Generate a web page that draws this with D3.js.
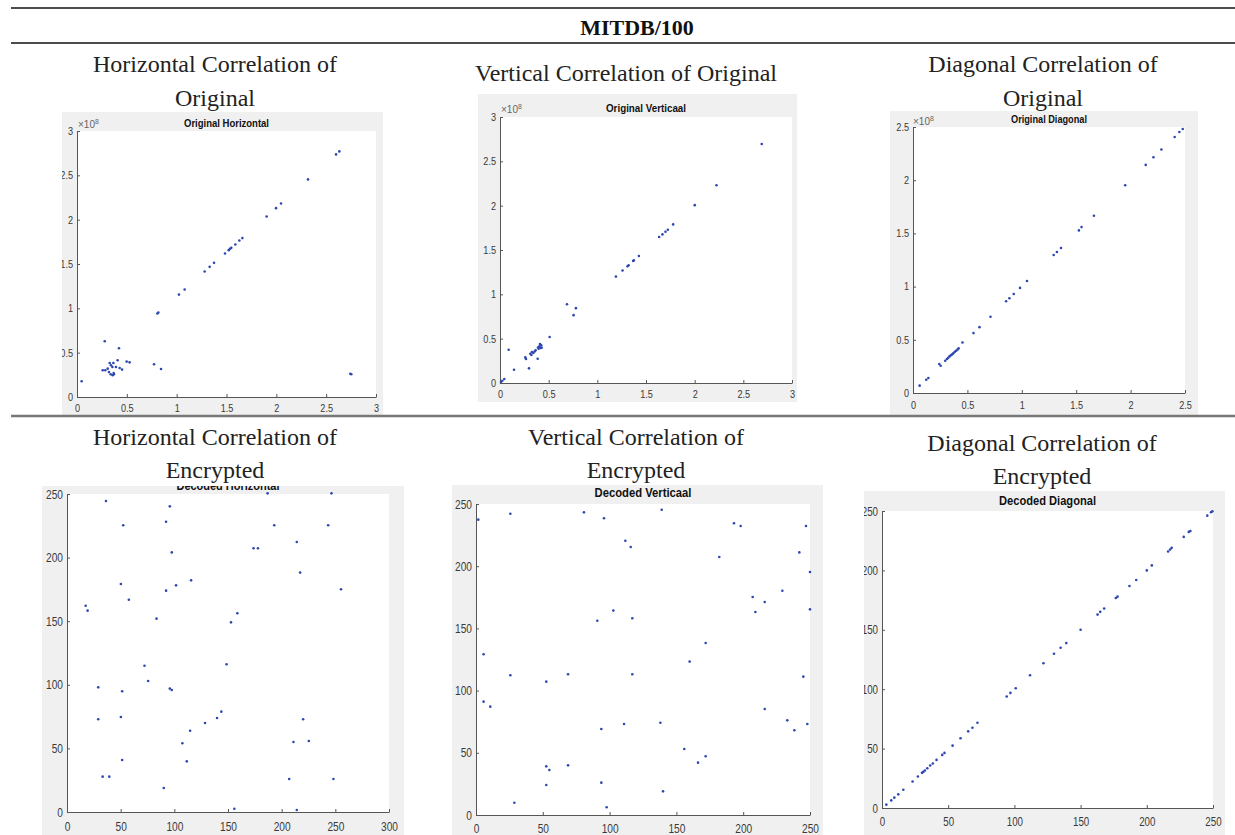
<!DOCTYPE html>
<html><head><meta charset="utf-8">
<script src="https://cdn.jsdelivr.net/npm/d3@7"></script>
<style>body{margin:0;background:#fff} svg{display:block}</style>
</head><body><svg id="c" width="1235" height="835"></svg>
<script>
// ---------------- DATA ----------------
const tableTitle = "MITDB/100";
const headerRow1 = [["Horizontal Correlation of","Original"],["Vertical Correlation of Original"],["Diagonal Correlation of","Original"]];
const headerRow2 = [["Horizontal Correlation of","Encrypted"],["Vertical Correlation of","Encrypted"],["Diagonal Correlation of","Encrypted"]];
const plotTitles = ["Original Horizontal","Original Verticaal","Original Diagonal","Decoded Horizontal","Decoded Verticaal","Decoded Diagonal"];
const exponentLabel = "8"; // ×10^8 for the original plots

const ticksOrig3 = [0,0.5,1,1.5,2,2.5,3];
const ticksOrig25 = [0,0.5,1,1.5,2,2.5];
const ticks300 = [0,50,100,150,200,250,300];
const ticks250 = [0,50,100,150,200,250];

// Original Horizontal (units of 1e8)
const origHorizX = [0.047,0.278,0.421,0.258,0.284,0.308,0.328,0.341,0.355,0.365,0.321,0.338,0.358,0.368,0.371,0.391,0.408,0.428,0.452,0.498,0.528,0.773,0.843,0.806,0.816,1.023,1.080,1.281,1.331,1.375,1.485,1.522,1.535,1.548,1.589,1.629,1.659,1.903,1.997,2.047,2.318,2.599,2.632,2.742,2.752];
const origHorizY = [0.177,0.629,0.549,0.301,0.301,0.320,0.384,0.358,0.339,0.384,0.282,0.256,0.245,0.271,0.256,0.339,0.414,0.327,0.309,0.399,0.391,0.369,0.316,0.941,0.952,1.155,1.212,1.415,1.468,1.513,1.618,1.656,1.671,1.682,1.720,1.765,1.792,2.036,2.130,2.183,2.454,2.736,2.770,0.263,0.256];

// Original Verticaal (units of 1e8)
const origVertX = [0.010,0.024,0.044,0.089,0.144,0.260,0.267,0.298,0.311,0.322,0.328,0.342,0.356,0.366,0.387,0.390,0.404,0.411,0.417,0.424,0.397,0.428,0.510,0.688,0.756,0.780,1.191,1.259,1.310,1.321,1.368,1.375,1.427,1.635,1.669,1.700,1.724,1.779,2.001,2.224,2.689];
const origVertY = [0.011,0.026,0.045,0.375,0.150,0.289,0.270,0.165,0.330,0.315,0.349,0.338,0.356,0.368,0.274,0.401,0.413,0.439,0.394,0.424,0.386,0.398,0.518,0.889,0.765,0.844,1.200,1.268,1.316,1.328,1.376,1.384,1.433,1.646,1.676,1.706,1.729,1.789,2.006,2.231,2.696];

// Original Diagonal (units of 1e8)
const origDiagX = [0.061,0.122,0.141,0.241,0.254,0.296,0.312,0.324,0.336,0.345,0.355,0.364,0.373,0.385,0.397,0.410,0.419,0.455,0.556,0.611,0.712,0.856,0.886,0.926,0.984,1.048,1.293,1.323,1.360,1.525,1.549,1.663,1.950,2.139,2.210,2.283,2.405,2.448,2.479];
const origDiagY = [0.069,0.125,0.141,0.272,0.256,0.303,0.319,0.331,0.344,0.353,0.359,0.366,0.375,0.388,0.397,0.409,0.419,0.475,0.563,0.619,0.716,0.863,0.891,0.931,0.988,1.053,1.297,1.325,1.363,1.528,1.559,1.666,1.953,2.144,2.216,2.288,2.406,2.453,2.481];

// Decoded Horizontal
const decHorizX = [36.3,52.4,95.8,92.3,97.6,50.2,57.6,92.3,101.6,115.6,17.4,19.2,83.4,152.8,158.7,186.9,193.1,173.8,177.9,214.1,217.2,243.3,246.4,255.3,72.2,75.6,29.1,51.4,95.8,97.6,148.7,29.1,50.2,128.6,139.8,143.8,114.7,107.5,51.4,111.6,33.2,39.4,90.2,155.9,214.1,207.0,248.2,211.0,220.0,225.3];
const decHorizY = [244.5,225.4,240.3,228.2,204.1,179.2,166.9,174.0,178.2,182.1,162.2,158.3,152.0,149.1,156.2,250.5,225.4,207.3,207.3,212.3,188.2,225.4,250.5,175.1,115.0,103.0,98.0,94.9,97.0,95.9,116.1,72.9,74.7,70.0,73.9,78.9,63.9,54.0,40.9,39.8,27.8,27.8,18.9,2.6,1.6,25.9,25.9,55.0,72.9,55.8];

// Decoded Verticaal
const decVertX = [1.7,25.7,80.8,95.8,139.0,111.8,115.8,182.1,193.1,198.1,247.0,242.0,250.0,207.1,216.1,209.1,229.3,250.0,102.8,90.8,117.0,171.9,159.9,5.7,25.7,52.6,68.9,117.0,245.0,5.7,10.7,216.1,93.8,110.8,138.0,233.0,238.3,248.0,155.9,166.2,171.9,52.6,54.9,68.9,52.6,93.8,140.0,28.7,97.8];
const decVertY = [237.4,242.2,243.3,238.5,245.4,220.5,215.4,207.4,234.5,232.3,232.3,211.1,195.3,175.2,171.2,163.2,180.3,165.3,164.3,156.2,158.1,138.3,123.3,129.2,112.3,107.2,113.1,113.1,111.2,91.1,87.1,85.2,69.1,73.2,74.2,76.1,68.1,73.2,53.1,42.1,47.2,39.1,36.2,39.9,24.1,26.0,19.0,9.9,6.2];

// Decoded Diagonal
const decDiagX = [3.3,7.0,9.3,12.3,16.1,23.1,27.1,30.2,31.2,32.4,34.2,36.4,38.4,41.2,45.5,47.2,53.3,59.3,65.1,68.3,72.1,94.2,97.0,101.0,111.8,121.9,129.9,134.9,139.2,150.0,162.8,164.8,167.8,176.6,177.9,186.9,192.0,200.0,203.8,216.1,217.6,218.8,227.9,231.7,232.9,245.7,248.5,249.5];
const decDiagY = [2.8,6.4,8.7,11.5,15.4,22.3,26.5,29.6,30.4,31.6,33.5,35.8,37.4,40.5,44.7,46.4,52.5,58.7,64.5,67.6,71.8,93.9,96.9,100.8,111.7,121.8,129.9,134.9,138.8,150.0,162.8,165.1,167.9,176.8,177.9,186.9,191.9,200.0,204.2,215.9,217.6,219.0,228.2,232.4,233.2,246.1,248.9,249.7];

// ---------------- LAYOUT ----------------
const svg = d3.select("#c");
const serif = "'Liberation Serif','Times New Roman',serif";
const sans = "'Liberation Sans',Arial,Helvetica,sans-serif";

// table rules
svg.append("line").attr("x1",11).attr("x2",1235).attr("y1",8).attr("y2",8).attr("stroke","#111").attr("stroke-width",1.4);
svg.append("line").attr("x1",11).attr("x2",1235).attr("y1",43).attr("y2",43).attr("stroke","#111").attr("stroke-width",1.4);

svg.append("text").attr("x",637).attr("y",35).attr("text-anchor","middle")
  .style("font-family",serif).style("font-weight","bold").style("font-size","22px").attr("fill","#111")
  .text(tableTitle);

const headerPos1 = [{cx:215,ys:[72,106]},{cx:626,ys:[81]},{cx:1043,ys:[72,106]}];
const headerPos2 = [{cx:215,ys:[445,478]},{cx:636,ys:[445,478]},{cx:1042,ys:[451,484]}];
function drawHeader(rows, pos){
  rows.forEach((lines,i)=>{
    lines.forEach((t,j)=>{
      svg.append("text").attr("x",pos[i].cx).attr("y",pos[i].ys[j]).attr("text-anchor","middle")
        .style("font-family",serif).style("font-size","24px").attr("fill","#222").text(t);
    });
  });
}
drawHeader(headerRow1, headerPos1);
drawHeader(headerRow2, headerPos2);

const panels = [
  {xs:origHorizX, ys:origHorizY, xt:ticksOrig3, yt:ticksOrig3, xd:[0,3], yd:[0,3], title:plotTitles[0],
   bg:[62,112,383,415], pl:[77,131,376,397], tY:127, tW:85, tF:10.5, kF:10.5, kS:0.87, xPad:8, exp:[78,128]},
  {xs:origVertX, ys:origVertY, xt:ticksOrig3, yt:ticksOrig3, xd:[0,3], yd:[0,3], title:plotTitles[1],
   bg:[478,94,797,402], pl:[500,117,792,383], tY:111.5, tW:80, tF:10.5, kF:10.5, kS:0.87, xPad:8, exp:[501,113]},
  {xs:origDiagX, ys:origDiagY, xt:ticksOrig25, yt:ticksOrig25, xd:[0,2.5], yd:[0,2.5], title:plotTitles[2],
   bg:[890,111,1198,415], pl:[913,127,1185,393], tY:122.5, tW:76, tF:10.5, kF:10.5, kS:0.87, xPad:9, exp:[913,124.5]},
  {xs:decHorizX, ys:decHorizY, xt:ticks300, yt:ticks250, xd:[0,300], yd:[0,250], title:plotTitles[3],
   bg:[42,486,404,835], pl:[67,494,389,812], tY:490, tW:103, tF:12, kF:13, kS:0.78, xPad:10},
  {xs:decVertX, ys:decVertY, xt:ticks250, yt:ticks250, xd:[0,250], yd:[0,250], title:plotTitles[4],
   bg:[452,485,823,835], pl:[476,504,810,815], tY:497, tW:97, tF:12, kF:13, kS:0.78, xPad:9},
  {xs:decDiagX, ys:decDiagY, xt:ticks250, yt:ticks250, xd:[0,250], yd:[0,250], title:plotTitles[5],
   bg:[864,491,1225,835], pl:[882,511,1213,808], tY:505, tW:97, tF:12, kF:13, kS:0.75, xPad:9}
];

const fmt = d3.format("~g");
const axisCol = "#555";
const labelCol = "#3a3a3a";

panels.forEach((p,i)=>{
  const [bx0,by0,bx1,by1] = p.bg;
  const [px0,py0,px1,py1] = p.pl;
  const cid = "clip"+i;
  svg.append("clipPath").attr("id",cid).append("rect")
    .attr("x",bx0).attr("y",by0).attr("width",bx1-bx0).attr("height",by1-by0);
  const g = svg.append("g").attr("clip-path",`url(#${cid})`);
  g.append("rect").attr("x",bx0).attr("y",by0).attr("width",bx1-bx0).attr("height",by1-by0).attr("fill","#f0f0f0");
  g.append("rect").attr("x",px0).attr("y",py0).attr("width",px1-px0).attr("height",py1-py0).attr("fill","#fff");

  const x = d3.scaleLinear().domain(p.xd).range([px0,px1]);
  const y = d3.scaleLinear().domain(p.yd).range([py1,py0]);

  // title
  g.append("text").attr("x",(px0+px1)/2).attr("y",p.tY).attr("text-anchor","middle")
    .attr("textLength",p.tW).attr("lengthAdjust","spacingAndGlyphs")
    .style("font-family",sans).style("font-weight","bold").style("font-size",p.tF+"px").attr("fill","#111")
    .text(p.title);

  // axes
  const ax = g.append("g").attr("transform",`translate(0,${py1})`)
    .call(d3.axisBottom(x).tickValues(p.xt).tickFormat(fmt).tickSizeInner(-3).tickSizeOuter(0).tickPadding(p.xPad));
  const ay = g.append("g").attr("transform",`translate(${px0},0)`)
    .call(d3.axisLeft(y).tickValues(p.yt).tickFormat(fmt).tickSizeInner(-3).tickSizeOuter(0).tickPadding(4));
  [ax,ay].forEach(a=>{
    a.select(".domain").attr("stroke",axisCol);
    a.selectAll(".tick line").attr("stroke",axisCol);
    a.selectAll(".tick text").attr("fill",labelCol).style("font-family",sans).style("font-size",p.kF+"px")
      .each(function(){
        const L = this.getComputedTextLength();
        d3.select(this).attr("textLength",L*p.kS).attr("lengthAdjust","spacingAndGlyphs");
      });
  });

  // exponent
  if(p.exp){
    const t = g.append("text").attr("x",p.exp[0]).attr("y",p.exp[1])
      .style("font-family",sans).style("font-size","10px").attr("fill","#666");
    t.append("tspan").text("×10");
    t.append("tspan").attr("dy",-4).style("font-size","7px").text(exponentLabel);
  }

  // points
  g.append("g").selectAll("circle").data(p.xs.map((v,k)=>[v,p.ys[k]])).join("circle")
    .attr("cx",d=>x(d[0])).attr("cy",d=>y(d[1])).attr("r",1.3).attr("fill","#2c48b0");
});

// row separator
svg.append("line").attr("x1",11).attr("x2",1235).attr("y1",416).attr("y2",416).attr("stroke","#777").attr("stroke-width",2.4);
</script>
</body></html>
